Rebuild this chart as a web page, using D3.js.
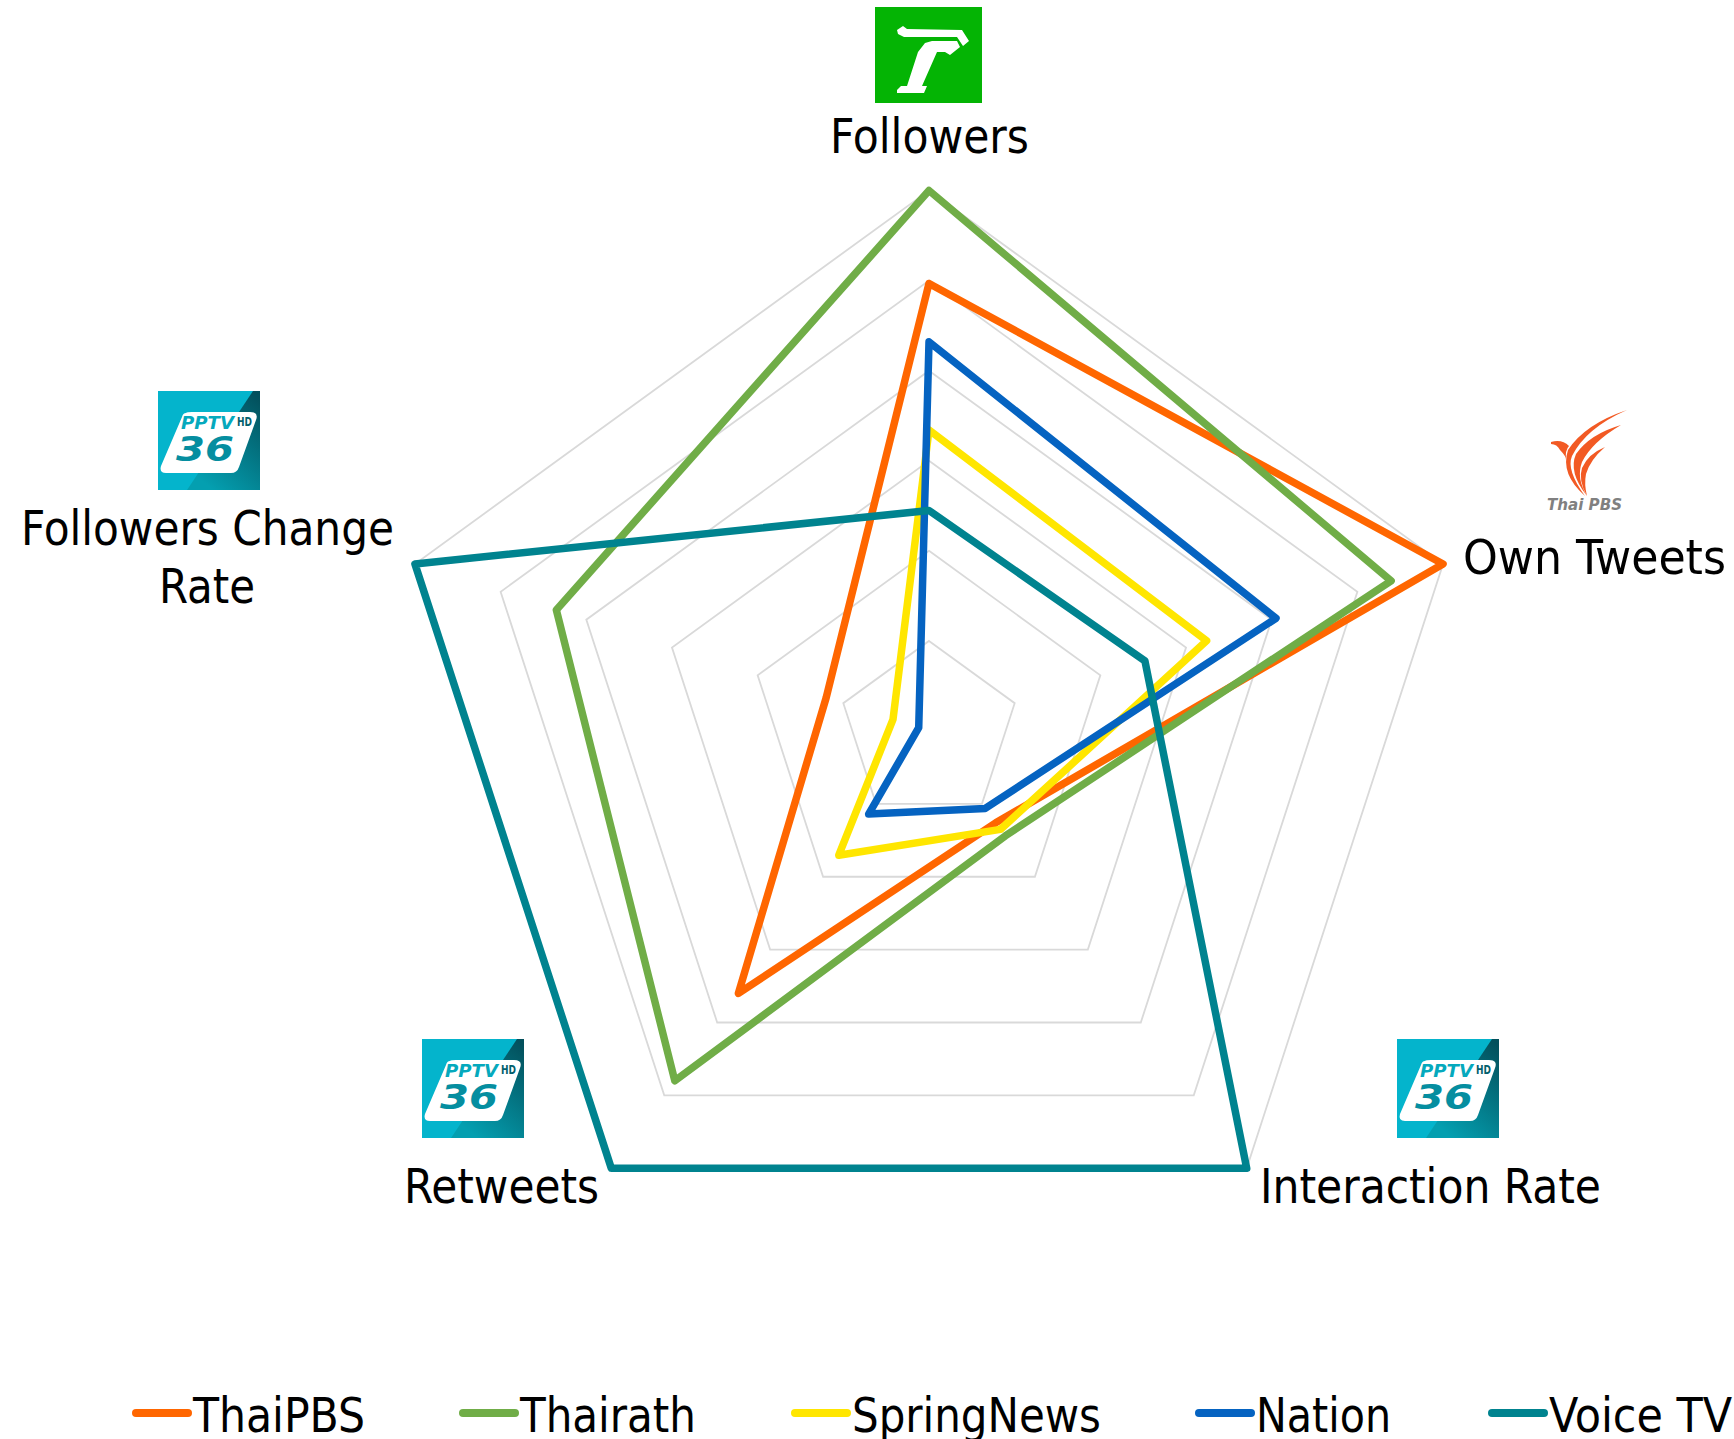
<!DOCTYPE html>
<html><head><meta charset="utf-8">
<script src="https://cdnjs.cloudflare.com/ajax/libs/d3/7.8.5/d3.min.js"></script>
<style>html,body{margin:0;padding:0;background:#fff;overflow:hidden}
text{font-family:"DejaVu Sans",sans-serif;font-stretch:condensed;fill:#000}
.lab{font-size:48px}</style></head>
<body><svg id="c" width="1734" height="1439" xmlns="http://www.w3.org/2000/svg"></svg>
<script>
const axes = ["Followers","Own Tweets","Interaction Rate","Retweets","Followers Change Rate"];
const seriesNames = ["ThaiPBS","Thairath","SpringNews","Nation","Voice TV"];
const colours = ["#ff6600","#70ad47","#ffe600","#0563c1","#00838f"];
const thaiPBS = [0.828,1.0,0.21,0.6,0.2];
const thairath = [1.0,0.899,0.24,0.8,0.725];
const springNews = [0.557,0.54,0.225,0.284,0.07];
const nation = [0.72,0.675,0.177,0.19,0.02];
const voiceTV = [0.408,0.42,1.0,1.0,1.0];
const gridLevels = [1/6,2/6,3/6,4/6,5/6,1];
const allSeries = [thaiPBS,thairath,springNews,nation,voiceTV];

const svg = d3.select("#c");
const cx = 929, cy = 731, R = 540.5;
const r = d3.scaleLinear().domain([0,1]).range([0,R]);
const angle = d3.scalePoint().domain(d3.range(axes.length+1)).range([0,2*Math.PI]);
const radial = d3.lineRadial().angle((d,i)=>angle(i)).radius(d=>r(d)).curve(d3.curveLinearClosed);
const plot = svg.append("g").attr("transform",`translate(${cx},${cy})`);

plot.selectAll("path.grid").data(gridLevels).join("path").attr("class","grid")
  .attr("d",l=>radial(axes.map(()=>l)))
  .attr("fill","none").attr("stroke","#d9d9d9").attr("stroke-width",1.8);
plot.selectAll("path.s").data(allSeries).join("path").attr("class","s")
  .attr("d",d=>radial(d)).attr("fill","none")
  .attr("stroke",(d,i)=>colours[i]).attr("stroke-width",7.5)
  .attr("stroke-linejoin","round").attr("stroke-linecap","round");

// axis labels
const labelPos = [
 {t:"Followers",x:830,y:153,w:199},
 {t:"Own Tweets",x:1463,y:574,w:263},
 {t:"Interaction Rate",x:1260,y:1203,w:341},
 {t:"Retweets",x:404,y:1203,w:195},
 {t:"Followers Change",x:21,y:545,w:373},
 {t:"Rate",x:159,y:603,w:96}];
svg.selectAll("text.axis").data(labelPos).join("text").attr("class","lab axis")
  .attr("x",d=>d.x).attr("y",d=>d.y).attr("textLength",d=>d.w)
  .attr("lengthAdjust","spacingAndGlyphs").text(d=>d.t);

// legend
const legendX=[133,460,792,1196,1489];
const legendW=[172,176,249,135,183];
const lg=svg.selectAll("g.leg").data(seriesNames).join("g").attr("class","leg")
 .attr("transform",(d,i)=>`translate(${legendX[i]},1413)`);
lg.append("line").attr("x1",3).attr("x2",55).attr("y1",0).attr("y2",0)
 .attr("stroke",(d,i)=>colours[i]).attr("stroke-width",8).attr("stroke-linecap","round");
lg.append("text").attr("class","lab").attr("x",60).attr("y",19)
 .attr("textLength",(d,i)=>legendW[i]).attr("lengthAdjust","spacingAndGlyphs").text(d=>d);

// logos
const green=svg.append("g").attr("transform","translate(875,7)");
green.append("rect").attr("width",107).attr("height",96).attr("fill","#04b404");
green.append("path").attr("fill","#fff").attr("d","M22 23 L28 19 L32 22 L87 23 L94 34 L88 39 L82 30 L29 30 L23 27 Z M50 36 L57 34 L82 34 L85 40 L75 48 L70 45 L62 45 L47 79 L52 79 L49 86 L22 86 L22 83 L26 79 L32 79 L43 45 Z");

const defs=svg.append("defs");
const grad=defs.append("linearGradient").attr("id","pg").attr("x1",1).attr("y1",0).attr("x2",0.35).attr("y2",1);
grad.append("stop").attr("offset",0.05).attr("stop-color","#03505c");
grad.append("stop").attr("offset",1).attr("stop-color","#049fb0");
function pptv(x,y){
  const g=svg.append("g").attr("transform",`translate(${x},${y})`);
  g.append("rect").attr("width",102).attr("height",99).attr("fill","#04b4cc");
  g.append("path").attr("fill","url(#pg)").attr("d","M95 0 L102 0 L102 99 L29 99 Z");
  g.append("path").attr("fill","#fff").attr("d","M28 22 Q29 21 34 21 L92 21 Q101 21 98 29 L81 76 Q79 82 73 82 L8 82 Q1 82 3 75 L24 26 Q25 22 28 22 Z");
  g.append("text").attr("x",23).attr("y",38).attr("font-size",17).attr("font-weight",700).attr("font-style","italic")
    .attr("textLength",53).attr("lengthAdjust","spacingAndGlyphs").style("fill","#05a9bd").text("PPTV");
  g.append("text").attr("x",79).attr("y",35).attr("font-size",12).attr("font-weight",700)
    .attr("textLength",15).attr("lengthAdjust","spacingAndGlyphs").style("fill","#035f6d").text("HD");
  g.append("text").attr("x",18).attr("y",70).attr("font-size",33).attr("font-weight",700).attr("font-style","italic")
    .attr("textLength",58).attr("lengthAdjust","spacingAndGlyphs").style("fill","#058ea0").text("36");
}
pptv(158,391);pptv(422,1039);pptv(1397,1039);

const pbs=svg.append("g").attr("transform","translate(1500,390)");
pbs.append("path").attr("fill","#f25a24").attr("d","M51 52 Q62 49 69 56 Q65 60 66 70 Q66 66 60 60 Q57 54 51 54 Z M127 20 Q86 38 72 66 Q66 80 85 106 Q60 84 68 60 Q85 34 127 20 Z M121 35 Q92 52 82 72 Q76 88 87 106 Q68 82 76 64 Q90 44 121 35 Z M105 57 Q90 70 86 84 Q84 94 87 106 Q78 90 82 78 Q88 64 105 57 Z");
pbs.append("text").attr("x",47).attr("y",120).attr("font-size",16).attr("font-weight",700).attr("font-style","italic")
  .attr("textLength",75).attr("lengthAdjust","spacingAndGlyphs").style("fill","#808080").text("Thai PBS");
</script></body></html>
